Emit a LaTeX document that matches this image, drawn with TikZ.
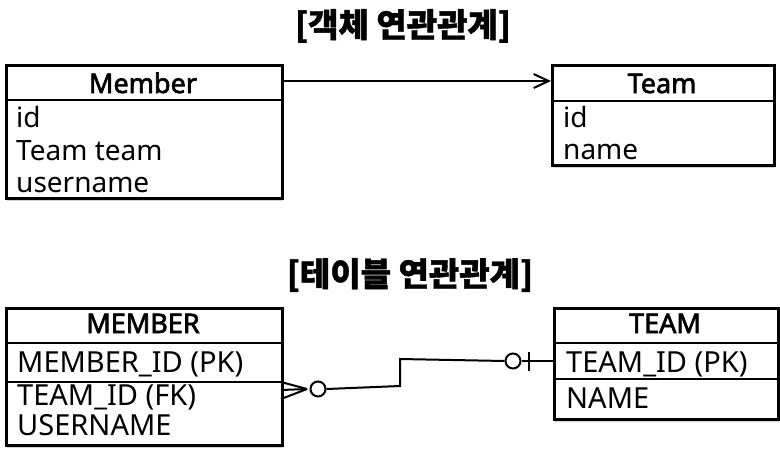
\documentclass[tikz,border=0pt]{standalone}
\usepackage{fontspec}
\setmainfont{Noto Sans}[AutoFakeBold=2.4]
\newfontfamily\kr{Noto Sans CJK KR}[BoldFeatures={FakeBold=1.2}]
\usetikzlibrary{arrows.meta,shadows,calc}
\begin{document}
\begin{tikzpicture}[x=1pt,y=-1pt,
  box/.style={draw, line width=2.6pt, anchor=north west, inner sep=0pt, fill=white,
    drop shadow={opacity=0.35, shadow xshift=0.5pt, shadow yshift=-3pt}},
  sep/.style={line width=1.8pt},
  hdr/.style={font=\fontsize{27}{27}\selectfont\bfseries, anchor=base, inner sep=0pt},
  row/.style={font=\fontsize{28}{28}\selectfont, anchor=base west, inner sep=0pt},
  trow/.style={font=\fontsize{29}{29}\selectfont, anchor=base west, inner sep=0pt},
  ttl/.style={font=\kr\fontsize{33}{33}\selectfont\bfseries, inner sep=0pt},
  conn/.style={line width=2pt},
]
\useasboundingbox (0,0) rectangle (780,453);
% titles
\node[ttl] (t1) at (403,26) {[객체 연관관계]};
\node[ttl] (t2) at (410,275) {[테이블 연관관계]};
% Member
\node[box, minimum width=276pt, minimum height=133pt] (member) at (5,64) {};
\coordinate (ym1) at (0,100);
\draw[sep] (member.west |- ym1) -- (member.east |- ym1);
\node[hdr] (memberh) at (143,93) {Member};
\node[row] (m1) at (16,127) {id};
\node[row] (m2) at (16,160) {Team team};
\node[row] (m3) at (16,192) {username};
% Team
\node[box, minimum width=222pt, minimum height=100pt] (team) at (551,64) {};
\coordinate (yt1) at (0,101);
\draw[sep] (team.west |- yt1) -- (team.east |- yt1);
\node[hdr] (teamh) at (662,93) {Team};
\node[row] (tt1) at (563,127) {id};
\node[row] (tt2) at (563,159) {name};
% arrow
\coordinate (ya) at (0,81);
\draw[conn, -{Straight Barb[length=15pt,width=14pt,line width=2pt]}] (member.east |- ya) -- (team.west |- ya);
% MEMBER table
\node[box, minimum width=276pt, minimum height=137pt] (mtab) at (5,307) {};
\coordinate (yb1) at (0,343);
\coordinate (yb2) at (0,382);
\draw[sep] (mtab.west |- yb1) -- (mtab.east |- yb1);
\draw[sep] (mtab.west |- yb2) -- (mtab.east |- yb2);
\node[hdr] (mtabh) at (143,333) {MEMBER};
\node[trow] (r1) at (17,372) {MEMBER\_ID (PK)};
\node[trow] (r2) at (17,405) {TEAM\_ID (FK)};
\node[trow] (r3) at (17,435) {USERNAME};
% TEAM table
\node[box, minimum width=224pt, minimum height=111pt] (ttab) at (553,307) {};
\coordinate (yc1) at (0,343);
\coordinate (yc2) at (0,379);
\draw[sep] (ttab.west |- yc1) -- (ttab.east |- yc1);
\draw[sep] (ttab.west |- yc2) -- (ttab.east |- yc2);
\node[hdr] (ttabh) at (665,333) {TEAM};
\node[trow] (s1) at (566,372) {TEAM\_ID (PK)};
\node[trow] (s2) at (566,408) {NAME};
% relationship
\coordinate (fk) at (281,390);
\coordinate (crow) at (307,389);
\coordinate (pk) at (553,361);
\draw[conn] (fk |- yb2) -- (crow);
\draw[conn] (fk) -- (crow);
\draw[conn] ($(fk)+(0,9)$) -- (crow);
\node[draw, circle, line width=2pt, minimum size=15pt, inner sep=0pt] (o1) at (318,389) {};
\node[draw, circle, line width=2pt, minimum size=15pt, inner sep=0pt] (o2) at (513,361) {};
\draw[conn] (o1.east) -- (400,386) -- (400,359) -- (o2.west);
\draw[conn] (o2.east) -- (ttab.west |- pk);
\draw[conn] (529,352) -- (529,371);
\end{tikzpicture}
\end{document}
